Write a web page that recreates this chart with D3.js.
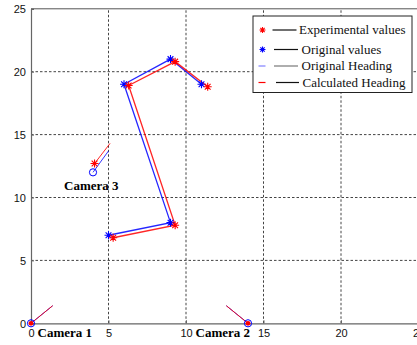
<!DOCTYPE html>
<html>
<head>
<meta charset="utf-8">
<script src="https://cdn.jsdelivr.net/npm/d3@7"></script>
<style>
  html, body { margin: 0; padding: 0; background: #fff; overflow: hidden; }
  svg { display: block; }
</style>
</head>
<body>
<svg id="chart" width="417" height="345"></svg>
<script>
// Tick values
const xTicks = [0, 5, 10, 15, 20, 25];
const yTicks = [0, 5, 10, 15, 20, 25];

// Original (ground truth) trajectory
const origX = [5, 9, 6, 9, 11];
const origY = [7, 8, 19, 21, 19];

// Experimental (estimated) trajectory
const expX = [5.3, 9.3, 6.3, 9.3, 11.4];
const expY = [6.8, 7.8, 18.9, 20.8, 18.8];

// Cameras
const camNames = ["Camera 1", "Camera 2", "Camera 3"];
const camX = [0, 14, 4];
const camY = [0, 0, 12];
// Experimental camera position estimates
const camExpX = [0, 14, 4.1];
const camExpY = [0, 0, 12.7];
// Heading end points
const calcHeadX = [1.4, 12.6, 5.1];
const calcHeadY = [1.4, 1.4, 14.3];
const origHeadX = [1.4, 12.6, 5.0];
const origHeadY = [1.4, 1.4, 13.7];

// Legend entries
const legendLabels = ["Experimental values", "Original values", "Original Heading", "Calculated Heading"];

const svg = d3.select("#chart");
const x = d3.scaleLinear().domain([0, 25]).range([31, 418.5]);
const y = d3.scaleLinear().domain([0, 25]).range([323.3, 8.8]);

const RED = "#ff0000", BLUE = "#0000ff";

// Grid
const grid = svg.append("g");
grid.selectAll("line.vg").data(xTicks.filter(d => d > 0)).join("line")
  .attr("x1", d => x(d)).attr("x2", d => x(d))
  .attr("y1", y(0)).attr("y2", y(25))
  .attr("stroke", "#444").attr("stroke-width", 1).attr("stroke-dasharray", "2.5,2");
grid.selectAll("line.hg").data(yTicks.filter(d => d > 0 && d < 25)).join("line")
  .attr("x1", x(0)).attr("x2", x(25))
  .attr("y1", d => y(d)).attr("y2", d => y(d))
  .attr("stroke", "#444").attr("stroke-width", 1).attr("stroke-dasharray", "2.5,2");

// Axes frame
svg.append("line").attr("x1", x(0)).attr("x2", x(25)).attr("y1", y(25)).attr("y2", y(25))
  .attr("stroke", "#555").attr("stroke-width", 1);

const xAxis = d3.axisBottom(x).tickValues(xTicks).tickSize(-3).tickPadding(6).tickFormat(d3.format("d"));
const yAxis = d3.axisLeft(y).tickValues(yTicks).tickSize(-3).tickPadding(5).tickFormat(d3.format("d"));

const gx = svg.append("g").attr("transform", `translate(0,${y(0)})`).call(xAxis);
const gy = svg.append("g").attr("transform", `translate(${x(0)},0)`).call(yAxis);
[gx, gy].forEach(g => {
  g.select(".domain").attr("stroke", "#666").attr("stroke-width", 1.2);
  g.selectAll(".tick line").attr("stroke", "#666");
  g.selectAll(".tick text")
    .attr("font-family", "'Liberation Sans', Arial, sans-serif")
    .attr("font-size", 11).attr("fill", "#111");
});
gy.selectAll(".tick text").attr("dy", "0.35em");

// Star marker path (MATLAB-style '*')
function starPath(r) {
  const d = r * 0.72;
  return `M${-r},0L${r},0M0,${-r}L0,${r}M${-d},${-d}L${d},${d}M${-d},${d}L${d},${-d}`;
}

const line = d3.line().x(d => x(d[0])).y(d => y(d[1]));
const origPts = origX.map((v, i) => [v, origY[i]]);
const expPts = expX.map((v, i) => [v, expY[i]]);

// Trajectories
svg.append("path").datum(origPts).attr("d", line)
  .attr("fill", "none").attr("stroke", BLUE).attr("stroke-width", 1.3).attr("stroke-opacity", 0.85);
svg.append("path").datum(expPts).attr("d", line)
  .attr("fill", "none").attr("stroke", RED).attr("stroke-width", 1.3).attr("stroke-opacity", 0.85);

svg.selectAll("path.os").data(origPts).join("path")
  .attr("transform", d => `translate(${x(d[0])},${y(d[1])})`)
  .attr("d", starPath(4)).attr("stroke", BLUE).attr("stroke-width", 1.1).attr("fill", "none");
svg.selectAll("path.es").data(expPts).join("path")
  .attr("transform", d => `translate(${x(d[0])},${y(d[1])})`)
  .attr("d", starPath(4)).attr("stroke", RED).attr("stroke-width", 1.1).attr("fill", "none");

// Camera headings
camX.forEach((cx, i) => {
  svg.append("line")
    .attr("x1", x(cx)).attr("y1", y(camY[i]))
    .attr("x2", x(origHeadX[i])).attr("y2", y(origHeadY[i]))
    .attr("stroke", BLUE).attr("stroke-width", 1).attr("stroke-opacity", 0.8);
  svg.append("line")
    .attr("x1", x(camExpX[i])).attr("y1", y(camExpY[i]))
    .attr("x2", x(calcHeadX[i])).attr("y2", y(calcHeadY[i]))
    .attr("stroke", RED).attr("stroke-width", 1).attr("stroke-opacity", 0.85);
});

// Camera markers
camX.forEach((cx, i) => {
  svg.append("circle").attr("cx", x(cx)).attr("cy", y(camY[i])).attr("r", 3.6)
    .attr("fill", "none").attr("stroke", BLUE).attr("stroke-width", 1);
  if (camExpX[i] === cx && camExpY[i] === camY[i]) {
    svg.append("circle").attr("cx", x(cx)).attr("cy", y(camY[i])).attr("r", 2.4).attr("fill", RED);
  } else {
    svg.append("path").attr("transform", `translate(${x(camExpX[i])},${y(camExpY[i])})`)
      .attr("d", starPath(4)).attr("stroke", RED).attr("stroke-width", 1.1).attr("fill", "none");
  }
});

// Camera labels
const camLabelPos = [[37.5, 337], [195.5, 337], [64, 190]];
camNames.forEach((n, i) => {
  svg.append("text").attr("x", camLabelPos[i][0]).attr("y", camLabelPos[i][1])
    .attr("font-family", "'Liberation Serif', 'Times New Roman', serif")
    .attr("font-weight", "bold").attr("font-size", 13).attr("fill", "#000").text(n);
});

// Legend
const lg = svg.append("g");
lg.append("rect").attr("x", 253).attr("y", 16).attr("width", 159).attr("height", 76.5)
  .attr("fill", "#fff").attr("stroke", "#222").attr("stroke-width", 1);
const rows = [
  { y: 30, type: "star", color: RED, lineColor: "#111", lx1: 272.5, lx2: 296.5, tx: 299 },
  { y: 49.5, type: "star", color: BLUE, lineColor: "#111", lx1: 274, lx2: 298, tx: 301.5 },
  { y: 66, type: "dash", color: "#8080ff", lineColor: "#777", lx1: 274, lx2: 298, tx: 301.5 },
  { y: 82.5, type: "dash", color: RED, lineColor: "#111", lx1: 276, lx2: 299, tx: 302.5 }
];
rows.forEach((r, i) => {
  if (r.type === "star") {
    lg.append("path").attr("transform", `translate(262.5,${r.y})`)
      .attr("d", starPath(3)).attr("stroke", r.color).attr("stroke-width", 1.1).attr("fill", "none");
  } else {
    lg.append("line").attr("x1", 258.5).attr("x2", 265.5).attr("y1", r.y).attr("y2", r.y)
      .attr("stroke", r.color).attr("stroke-width", 1.2);
  }
  lg.append("line").attr("x1", r.lx1).attr("x2", r.lx2).attr("y1", r.y).attr("y2", r.y)
    .attr("stroke", r.lineColor).attr("stroke-width", 1.2);
  lg.append("text").attr("x", r.tx).attr("y", r.y + 4.3)
    .attr("font-family", "'Liberation Serif', 'Times New Roman', serif")
    .attr("font-size", 13).attr("fill", "#111").text(legendLabels[i]);
});
</script>
</body>
</html>
